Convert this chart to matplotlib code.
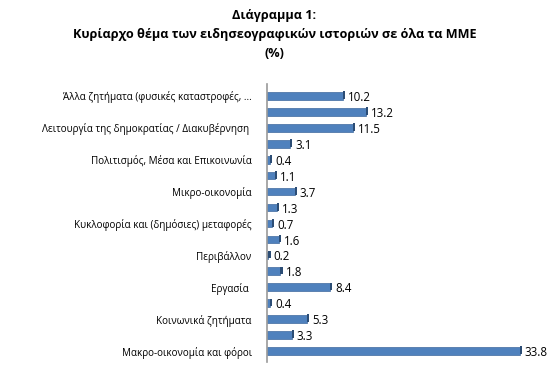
import matplotlib
matplotlib.use("Agg")
import numpy as np
from matplotlib import pyplot as plt

plt.rcParams['font.family'] = ['Open Sans', 'DejaVu Sans']

title = "Διάγραμμα 1:\nΚυρίαρχο θέμα των ειδησεογραφικών ιστοριών σε όλα τα ΜΜΕ\n(%)"

# values from top to bottom (17 bars, every other one labelled)
values = [10.2, 13.2, 11.5, 3.1, 0.4, 1.1, 3.7, 1.3, 0.7,
          1.6, 0.2, 1.8, 8.4, 0.4, 5.3, 3.3, 33.8]
labels = ["Άλλα ζητήματα (φυσικές καταστροφές, ...",
          "Λειτουργία της δημοκρατίας / Διακυβέρνηση ",
          "Πολιτισμός, Μέσα και Επικοινωνία",
          "Μικρο-οικονομία",
          "Κυκλοφορία και (δημόσιες) μεταφορές",
          "Περιβάλλον",
          "Εργασία ",
          "Κοινωνικά ζητήματα",
          "Μακρο-οικονομία και φόροι"]

fig = plt.figure(figsize=(5.49, 3.74), dpi=100)
ax = fig.add_axes([267/549, 1-362/374, 0.49, (362-84)/374])

y = np.arange(len(values))
ax.barh(y, values, height=0.48, color='#4f81bd', edgecolor='#3f6a9e', linewidth=0.5)
# darker end face for the 3d look
ax.barh(y - 0.05, 0.28, left=values, height=0.48, color='#2c4d75', linewidth=0)

for yi, v in zip(y, values):
    ax.text(v + 0.7, yi + 0.1, f"{v:.1f}", va='center', ha='left', fontsize=8.3)

ax.set_xlim(0, 36)
ax.set_ylim(16.69, -0.75)
ax.set_yticks(y[::2])
ax.set_yticklabels(labels, fontsize=7.1)
ax.tick_params(axis='y', length=0, pad=11)
ax.set_xticks([])
for s in ['top', 'right', 'bottom']:
    ax.spines[s].set_visible(False)
ax.spines['left'].set_color('#9a9a9a')
ax.spines['left'].set_linewidth(1.2)

fig.text(0.5, 0.975, title, ha='center', va='top', fontsize=9.1,
         fontweight='bold', linespacing=1.6)

fig.savefig("out.png", dpi=100)
